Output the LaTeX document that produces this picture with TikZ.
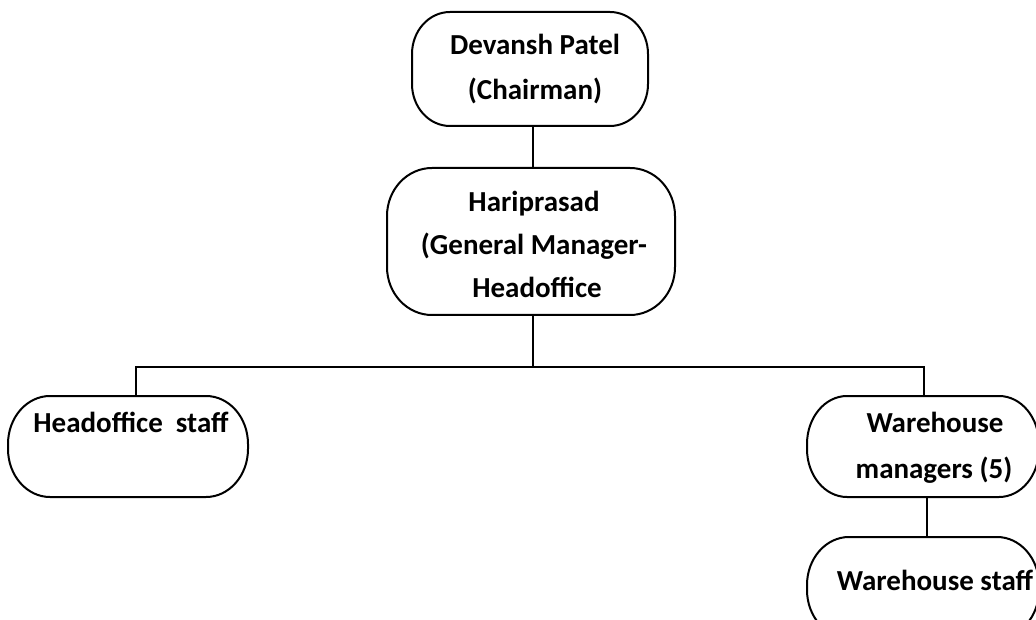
\documentclass[tikz,border=0pt]{standalone}
\usepackage{fontspec}
\setmainfont{Carlito}
\usetikzlibrary{fit}
\newcommand\ebox[7]{%
  \path (#2,#3) coordinate (#1-nw) (#4,#5) coordinate (#1-se);
  \node[boxarea,fit=(#1-nw)(#1-se)] (#1) {};
  \draw[boxline] (#2+#6,#3) -- (#4-#6,#3)
    arc[start angle=270,end angle=360,x radius=#6,y radius=#7]
    -- (#4,#5-#7)
    arc[start angle=0,end angle=90,x radius=#6,y radius=#7]
    -- (#2+#6,#5)
    arc[start angle=90,end angle=180,x radius=#6,y radius=#7]
    -- (#2,#3+#7)
    arc[start angle=180,end angle=270,x radius=#6,y radius=#7]
    -- cycle;
}
\begin{document}
\begin{tikzpicture}[x=1pt,y=-1pt,
  boxarea/.style={inner sep=0pt,draw=none},
  boxline/.style={draw=black,line width=2pt,line join=round},
  txt/.style={anchor=base,inner sep=0pt,font=\fontsize{29}{43}\selectfont\bfseries},
  conn/.style={draw=black,line width=2pt}]
\clip (0,0) rectangle (1036,620);
\fill[white] (0,0) rectangle (1036,620);
% boxes
\ebox{chair}{412}{12}{648}{126}{38}{42}
\ebox{gm}{387}{168}{675}{315}{45}{48}
\ebox{hos}{8}{396}{248}{497}{42}{48}
\ebox{whm}{807}{396}{1039}{497}{40}{48}
\ebox{ws}{807}{537}{1039}{638}{42}{48}
% texts
\node[txt] (t1) at (535,55) {Devansh Patel};
\node[txt] (t2) at (535,100) {(Chairman)};
\node[txt] (t3) at (534,212) {Hariprasad};
\node[txt] (t4) at (534,255) {(General Manager-};
\node[txt] (t5) at (537,298) {Headoffice};
\node[txt] (t6) at (131,432) {Headoffice~ staff};
\node[txt] (t7) at (935,432) {Warehouse};
\node[txt] (t8) at (934,478) {managers (5)};
\node[txt] (t9) at (935,590) {Warehouse staff};
% connectors
\coordinate (bus) at (533,367);
\coordinate (dl) at (136,367);
\coordinate (dr) at (924,367);
\coordinate (dw) at (927,367);
\draw[conn] (chair.south -| bus) -- (gm.north -| bus);
\draw[conn] (gm.south -| bus) -- (bus);
\draw[conn] (hos.north -| dl) -- (dl) -- (dr) -- (whm.north -| dr);
\draw[conn] (whm.south -| dw) -- (ws.north -| dw);
\end{tikzpicture}
\end{document}
